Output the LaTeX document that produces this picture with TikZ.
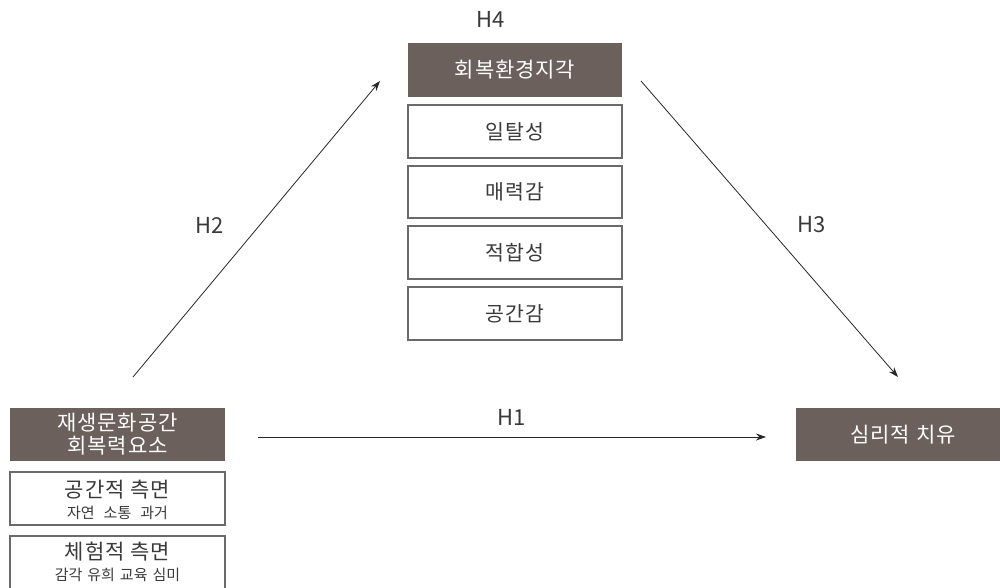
\documentclass[tikz,border=0pt]{standalone}
\usepackage{fontspec}
\setmainfont{Noto Sans CJK KR}
\newfontfamily\krsp[LetterSpace=4]{Noto Sans CJK KR}
\usetikzlibrary{arrows.meta}
\definecolor{darkbox}{HTML}{6B605C}
\definecolor{boxline}{HTML}{6A6A6A}
\definecolor{txt}{HTML}{3A3A3A}
\tikzset{
  darkrect/.style={fill=darkbox, draw=none, text=white, font=\krsp\fontsize{21}{24}\selectfont, align=center, inner sep=0pt},
  whiterect/.style={fill=white, draw=boxline, line width=1.2pt, text=txt, font=\krsp\fontsize{20.5}{22}\selectfont, inner sep=0pt},
  maintxt/.style={text=txt, font=\krsp\fontsize{21}{22}\selectfont, inner sep=0pt},
  subtxt/.style={text=txt, font=\fontsize{15}{16}\selectfont, inner sep=0pt},
  hlabel/.style={text=txt, font=\fontsize{22}{24}\selectfont, inner sep=0pt},
  conn/.style={draw=black!85, line width=0.8pt, -{Stealth[length=10pt,width=7pt]}}
}
\begin{document}
\begin{tikzpicture}[x=1pt,y=-1pt]
\useasboundingbox (0,0) rectangle (1000,587);
% top group
\node[darkrect, minimum width=214pt, minimum height=54pt] (perc) at (515,70) {회복환경지각};
\node[whiterect, minimum width=214pt, minimum height=53pt] (a1) at (515,131.5) {일탈성};
\node[whiterect, minimum width=214pt, minimum height=52pt] (a2) at (515,192) {매력감};
\node[whiterect, minimum width=214pt, minimum height=53pt] (a3) at (515,252.5) {적합성};
\node[whiterect, minimum width=214pt, minimum height=53pt] (a4) at (515,313.5) {공간감};
% left group
\node[darkrect, minimum width=215pt, minimum height=53pt, font=\krsp\fontsize{21}{23}\selectfont] (res) at (117.5,434.5) {재생문화공간\\회복력요소};
\node[whiterect, minimum width=215pt, minimum height=53pt] (b1) at (117.5,498.5) {};
\node[maintxt] (b1t) at (117.5,490) {공간적\hspace{6pt}측면};
\node[subtxt] (b1s) at (117.5,513) {자연\hspace{9pt}소통\hspace{9pt}과거};
\node[whiterect, minimum width=215pt, minimum height=53pt] (b2) at (117.5,562.5) {};
\node[maintxt] (b2t) at (117.5,552) {체험적\hspace{6pt}측면};
\node[subtxt] (b2s) at (117.5,575) {감각\hspace{5pt}유희\hspace{5pt}교육\hspace{5pt}심미};
% right
\node[darkrect, minimum width=214pt, minimum height=53pt, anchor=west] (heal) at (796,434.5) {};
\node[text=white, font=\krsp\fontsize{21}{24}\selectfont, inner sep=0pt] (healt) at (903,434.5) {심리적\hspace{6pt}치유};
% connector endpoints
\coordinate (h2s) at (133,377);
\coordinate (h2e) at (380,81);
\coordinate (h3s) at (641,81);
\coordinate (h3e) at (898,377);
\coordinate (h1s) at (258,437);
\coordinate (h1e) at (766,437);
\draw[conn] (h2s) -- (h2e);
\draw[conn] (h3s) -- (h3e);
\draw[conn] (h1s) -- (h1e);
% labels
\node[hlabel] (l4) at (491,19) {H4};
\node[hlabel] (l2) at (210,225) {H2};
\node[hlabel] (l3) at (812,225) {H3};
\node[hlabel] (l1) at (512,417) {H1};
\end{tikzpicture}
\end{document}
